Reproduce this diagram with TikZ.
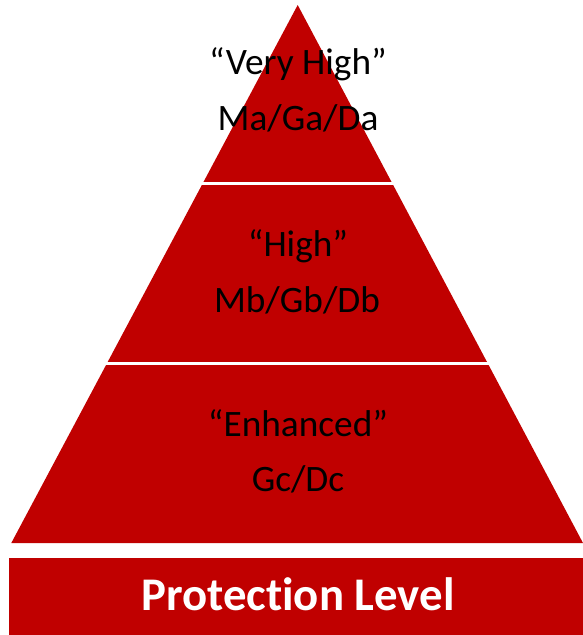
\documentclass[tikz,border=0pt]{standalone}
\usepackage{fontspec}
\setmainfont{Carlito}[Ligatures={NoCommon}]
\definecolor{pyrred}{HTML}{C00000}
\begin{document}
\begin{tikzpicture}[x=1pt,y=-1pt,
  tiertext/.style={anchor=base,text=black,inner sep=0pt,font=\fontsize{37.3}{40}\selectfont},
  labeltext/.style={anchor=base,text=white,inner sep=0pt,font=\fontsize{46.8}{50}\selectfont\bfseries},
  divider/.style={draw=white,line width=3pt}]
\useasboundingbox (0,0) rectangle (583,635);
% pyramid
\fill[pyrred] (297.7,5) -- (583,543) -- (11.3,543) -- cycle;
\draw[divider] (150,183) -- (450,183);
\draw[divider] (60,363.5) -- (540,363.5);
% base bar
\fill[pyrred] (9,557.7) rectangle (583,635);
% texts
\node[tiertext] (t1a) at (298,74) {“Very High”};
\node[tiertext] (t1b) at (298,130) {Ma/Ga/Da};
\node[tiertext] (t2a) at (298,256) {“High”};
\node[tiertext] (t2b) at (297,312) {Mb/Gb/Db};
\node[tiertext] (t3a) at (298,436) {“Enhanced”};
\node[tiertext] (t3b) at (298,491.7) {Gc/Dc};
\node[labeltext] (lvl) at (298,610.5) {Protection Level};
\end{tikzpicture}
\end{document}
